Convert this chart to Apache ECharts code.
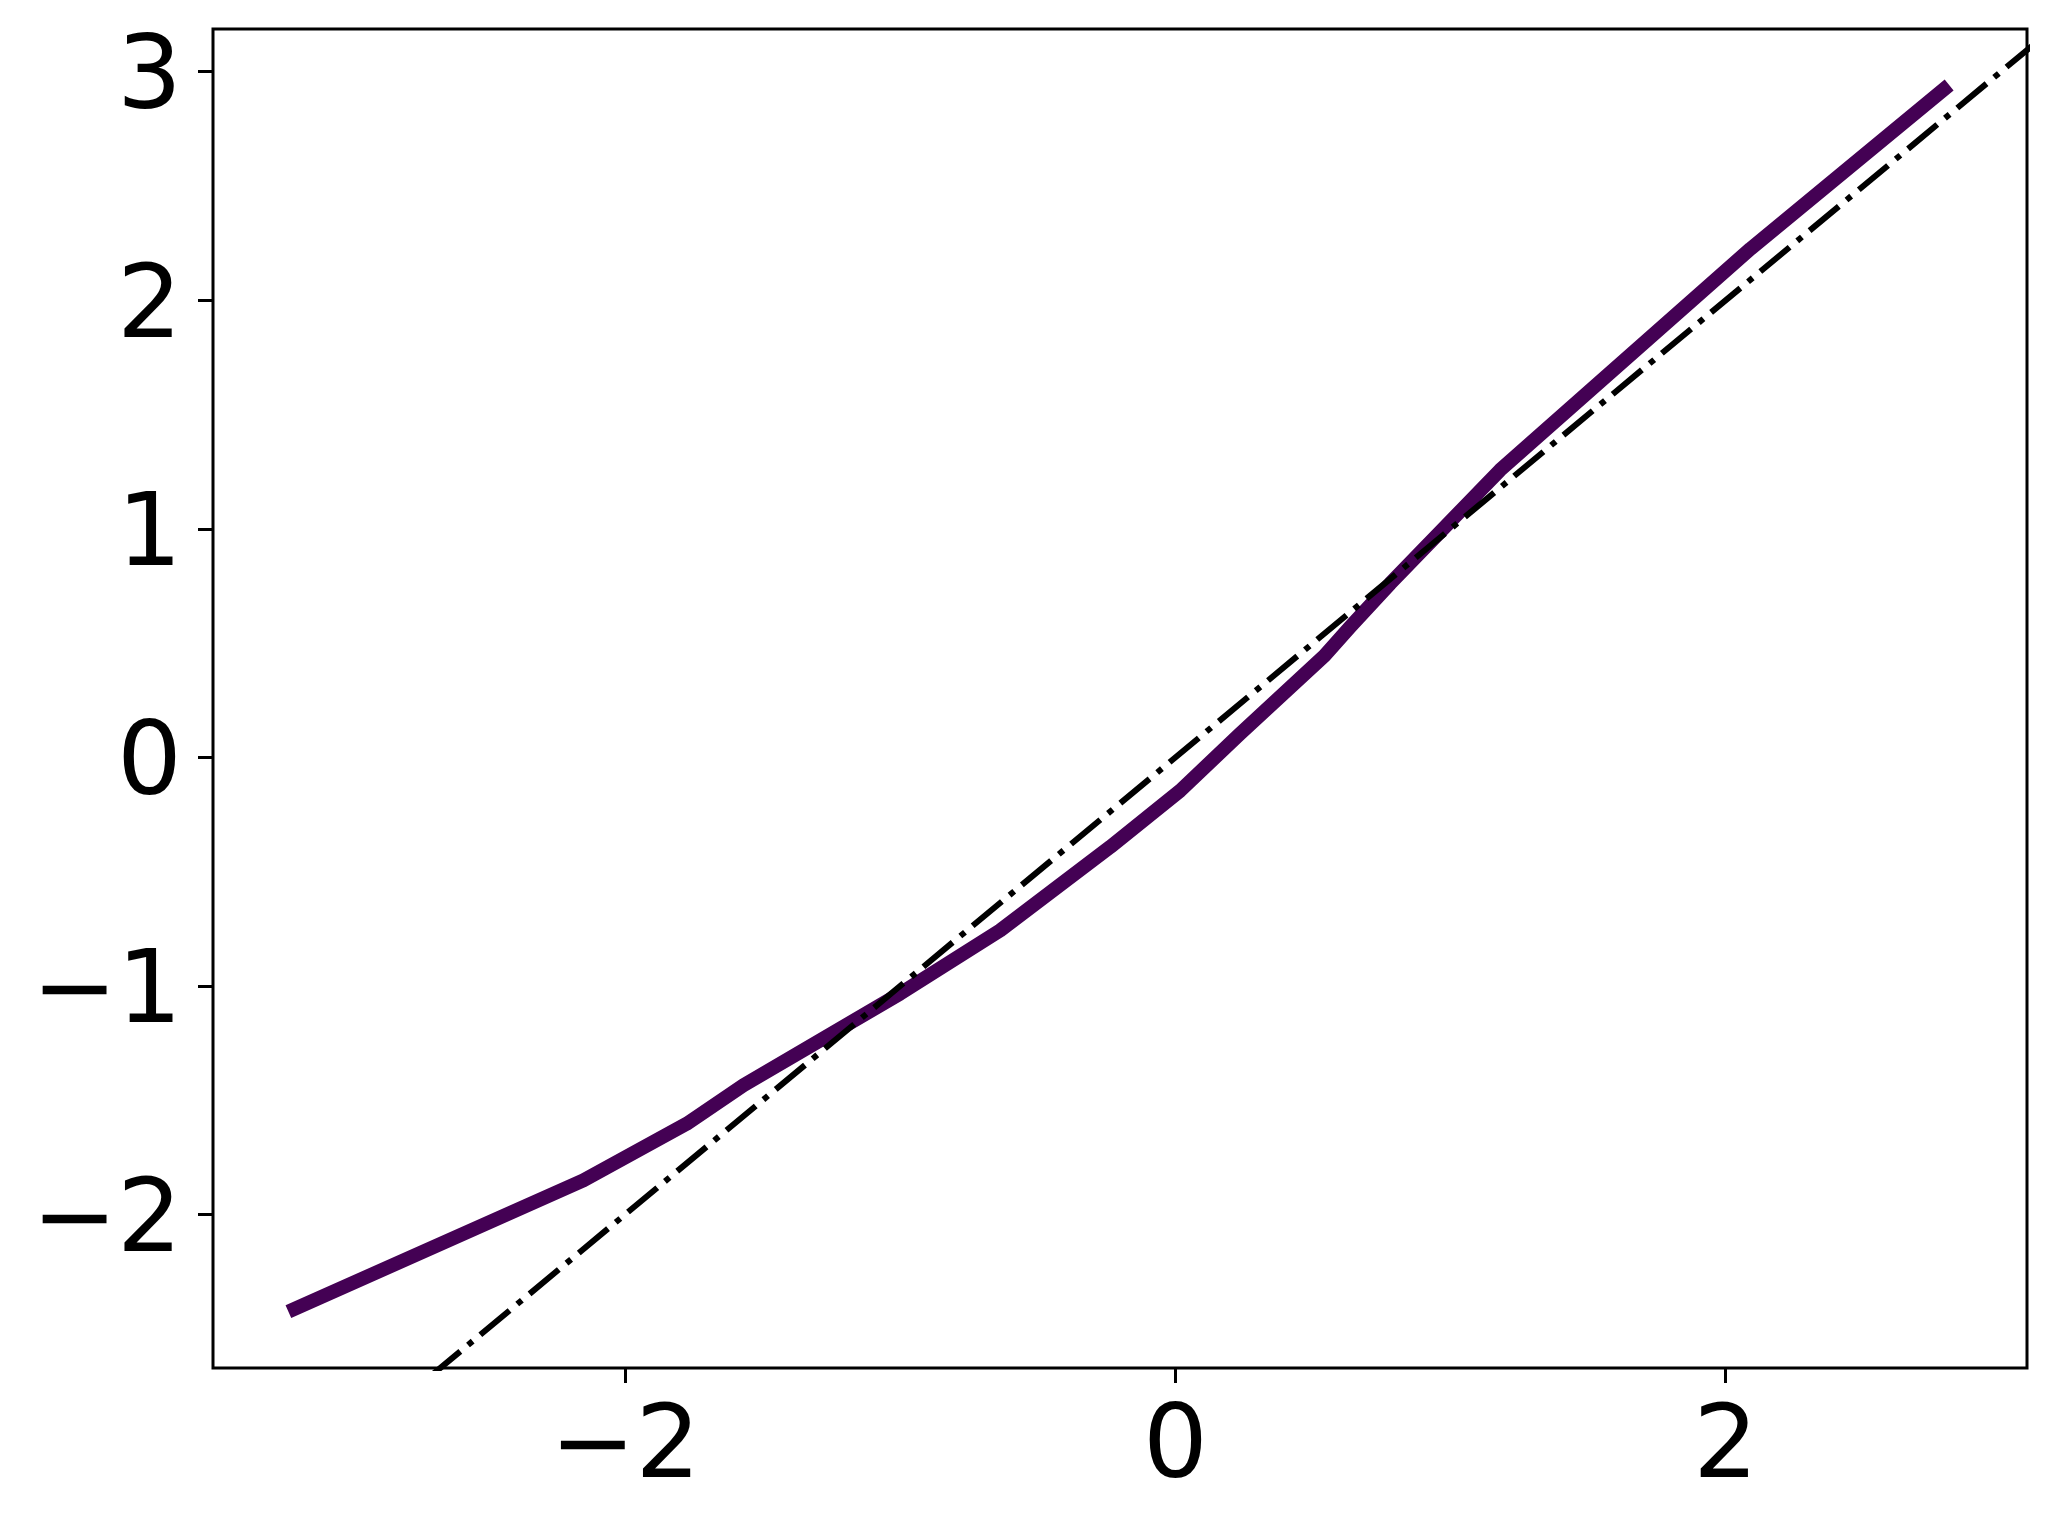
<!DOCTYPE html>
<html>
<head>
<meta charset="utf-8">
<script src="https://cdn.jsdelivr.net/npm/echarts@6/dist/echarts.min.js"></script>
<style>
html,body{margin:0;padding:0;background:#fff;}
#chart{width:2056px;height:1529px;}
</style>
</head>
<body>
<div id="chart"></div>
<script>
// Data
var curveX = [-3.224, -2.152, -1.776, -1.570, -1.001, -0.637, -0.237, 0.017, 0.232, 0.542, 0.635, 0.780, 1.180, 2.090, 2.812];
var curveY = [-2.425, -1.851, -1.603, -1.435, -1.034, -0.757, -0.392, -0.146, 0.100, 0.445, 0.571, 0.760, 1.257, 2.225, 2.942];
var refX = [-3.6, 3.2];          // identity reference line y = x
var xTicks = [-2, 0, 2];
var yTicks = [-2, -1, 0, 1, 2, 3];
var xRange = [-3.498, 3.095];
var yRange = [-2.672, 3.187];

var curveData = curveX.map(function (x, i) { return [x, curveY[i]]; });
var refData = refX.map(function (x) { return [x, x]; });

function fmt(v) { return String(v).replace('-', '\u2212'); }

var chart = echarts.init(document.getElementById('chart'), null, {renderer: 'canvas'});
var font = 'DejaVu Sans';
chart.setOption({
  animation: false,
  backgroundColor: '#fff',
  grid: {
    left: 213, right: 29, top: 29, bottom: 161,
    show: true, borderColor: '#000', borderWidth: 3, backgroundColor: 'transparent'
  },
  xAxis: {
    type: 'value', min: xRange[0], max: xRange[1],
    axisLine: {show: false, onZero: false},
    splitLine: {show: false},
    axisTick: {show: true, inside: false, length: 15, lineStyle: {color: '#000', width: 3}, customValues: xTicks},
    axisLabel: {show: true, margin: 31, fontFamily: font, fontSize: 102, color: '#000', lineHeight: 102,
      customValues: xTicks, formatter: fmt}
  },
  yAxis: {
    type: 'value', min: yRange[0], max: yRange[1],
    axisLine: {show: false, onZero: false},
    splitLine: {show: false},
    axisTick: {show: true, inside: false, length: 15, lineStyle: {color: '#000', width: 3}, customValues: yTicks},
    axisLabel: {show: true, margin: 31, fontFamily: font, fontSize: 102, color: '#000', lineHeight: 20,
      verticalAlign: 'top', customValues: yTicks, formatter: fmt}
  },
  series: [
    {
      type: 'line', data: refData, showSymbol: false, symbol: 'none', clip: true, z: 3,
      lineStyle: {color: '#000', width: 6, type: [38, 10, 6, 10], cap: 'butt'}
    },
    {
      type: 'line', data: curveData, showSymbol: false, symbol: 'none', clip: true, z: 2,
      lineStyle: {color: '#440154', width: 14, cap: 'butt', join: 'round'}
    }
  ]
});
</script>
</body>
</html>
